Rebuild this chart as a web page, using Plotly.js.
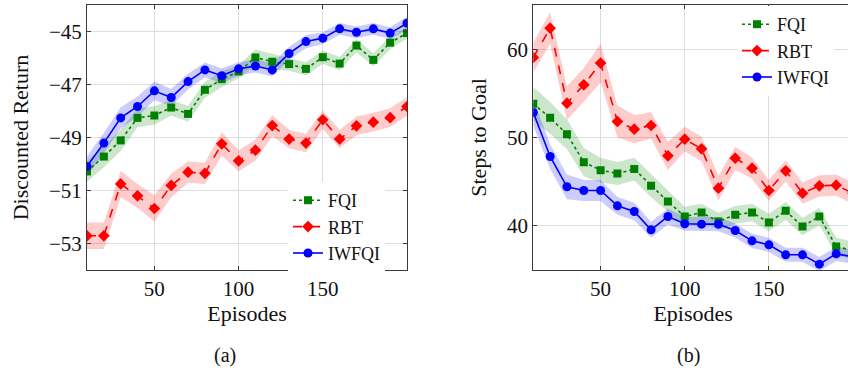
<!DOCTYPE html>
<html>
<head>
<meta charset="utf-8">
<script src="https://cdn.plot.ly/plotly-3.0.1.min.js"></script>
<style>
html, body { margin: 0; padding: 0; overflow: hidden; background: #fff; }
#chart { width: 870px; height: 376px; }
</style>
</head>
<body>
<div id="chart"></div>
<script>
// Episodes (shared x values)
const episodes = [10,20,30,40,50,60,70,80,90,100,110,120,130,140,150,160,170,180,190,200];

// (a) Discounted Return
const retFQI   = [-50.28,-49.72,-49.11,-48.26,-48.17,-47.87,-48.11,-47.20,-46.80,-46.51,-45.98,-46.14,-46.23,-46.41,-45.97,-46.21,-45.53,-46.07,-45.42,-45.06];
const retRBT   = [-52.71,-52.71,-50.75,-51.20,-51.68,-50.81,-50.31,-50.35,-49.24,-49.88,-49.48,-48.55,-49.06,-49.21,-48.33,-49.06,-48.56,-48.42,-48.25,-47.83];
const retIWFQI = [-50.09,-49.21,-48.26,-47.83,-47.24,-47.49,-46.89,-46.45,-46.67,-46.41,-46.30,-46.45,-45.83,-45.38,-45.25,-44.90,-45.03,-44.90,-45.06,-44.69];
const retFQIsd   = [0.40,0.40,0.40,0.35,0.35,0.30,0.30,0.30,0.30,0.25,0.30,0.30,0.25,0.25,0.25,0.25,0.25,0.25,0.25,0.20];
const retRBTsd   = [0.50,0.50,0.50,0.45,0.50,0.45,0.40,0.40,0.45,0.40,0.40,0.40,0.35,0.35,0.35,0.35,0.35,0.35,0.35,0.35];
const retIWFQIsd = [0.38,0.38,0.40,0.38,0.35,0.32,0.30,0.28,0.28,0.25,0.25,0.25,0.25,0.25,0.22,0.22,0.22,0.22,0.22,0.25];

// (b) Steps to Goal
const stepFQI   = [53.81,52.23,50.38,47.21,46.30,45.92,46.42,44.53,42.75,41.06,41.51,40.49,41.25,41.51,40.38,41.70,39.92,41.06,37.66,37.2];
const stepRBT   = [59.06,62.38,53.89,55.96,58.42,51.81,50.94,51.36,47.92,49.81,48.72,44.26,47.66,46.53,44.00,46.23,43.70,44.53,44.60,43.7];
const stepIWFQI = [52.83,47.85,44.42,44.00,44.00,42.26,41.62,39.55,41.06,40.23,40.19,40.19,39.47,38.30,37.85,36.72,36.72,35.66,36.83,36.5];
const stepFQIsd   = [1.9,1.8,1.7,1.6,1.4,1.3,1.3,1.3,1.2,1.1,1.0,1.0,1.0,1.0,1.0,1.0,1.0,1.0,1.0,1.0];
const stepRBTsd   = [1.7,1.8,1.9,1.9,2.2,1.8,1.6,1.5,1.6,1.4,1.4,1.4,1.3,1.2,1.2,1.2,1.2,1.2,1.2,1.2];
const stepIWFQIsd = [1.5,1.4,1.4,1.2,1.2,1.0,1.0,0.9,0.9,0.8,0.8,0.8,0.8,0.8,0.8,0.8,0.8,0.8,0.8,0.8];

const seriesNames = ['FQI','RBT','IWFQI'];
const FONT = 'Liberation Serif';
const styles = {
  FQI:   {color:'#008000', band:'rgba(0,128,0,0.2)', dash:'dot',   symbol:'square',  size:8},
  RBT:   {color:'#ff0000', band:'rgba(255,0,0,0.2)', dash:'dash',  symbol:'diamond', size:9},
  IWFQI: {color:'#0000ff', band:'rgba(0,0,255,0.2)', dash:'solid', symbol:'circle',  size:9}
};

function band(x, m, sd, xa, ya, color) {
  const up = m.map((v,i)=>v+sd[i]);
  const lo = m.map((v,i)=>v-sd[i]);
  return {
    x: x.concat(x.slice().reverse()),
    y: up.concat(lo.slice().reverse()),
    xaxis: xa, yaxis: ya, type:'scatter', mode:'lines', fill:'toself',
    fillcolor: color, line:{width:0, color:'rgba(0,0,0,0)'},
    showlegend:false, hoverinfo:'skip'
  };
}
function line(x, m, name, xa, ya, legend) {
  const s = styles[name];
  return {
    x: x, y: m, name: name, xaxis: xa, yaxis: ya, type:'scatter', mode:'lines+markers',
    line:{color:s.color, width:1.6, dash:s.dash},
    marker:{color:s.color, symbol:s.symbol, size:s.size},
    legend: legend
  };
}

const dataA = [[retFQI,retFQIsd],[retRBT,retRBTsd],[retIWFQI,retIWFQIsd]];
const dataB = [[stepFQI,stepFQIsd],[stepRBT,stepRBTsd],[stepIWFQI,stepIWFQIsd]];
const traces = [];
seriesNames.forEach((n,i)=>{ traces.push(band(episodes, dataA[i][0], dataA[i][1], 'x', 'y', styles[n].band)); });
seriesNames.forEach((n,i)=>{ traces.push(line(episodes, dataA[i][0], n, 'x', 'y', 'legend')); });
seriesNames.forEach((n,i)=>{ traces.push(band(episodes, dataB[i][0], dataB[i][1], 'x2', 'y2', styles[n].band)); });
seriesNames.forEach((n,i)=>{ traces.push(line(episodes, dataB[i][0], n, 'x2', 'y2', 'legend2')); });

const W = 870, H = 376;
const axBase = {
  showline:true, mirror:'ticks', linecolor:'#3a3a3a', linewidth:1,
  ticks:'inside', ticklen:4, tickcolor:'#3a3a3a',
  showgrid:true, gridcolor:'#dddddd', gridwidth:1, zeroline:false,
  tickfont:{family:FONT, size:21, color:'#111'}
};
const yDom = [1-270/H, 1-5/H];

const layout = {
  width: W, height: H,
  margin:{l:0,r:0,t:0,b:0},
  paper_bgcolor:'#fff', plot_bgcolor:'#fff',
  font:{family:FONT, size:21, color:'#111'},
  xaxis: Object.assign({}, axBase, {domain:[87/W, 407/W], range:[10,200], tickvals:[50,100,150,200], ticktext:['50','100','150',''], anchor:'y',
    title:{text:'Episodes', font:{family:FONT,size:22}, standoff:3}}),
  yaxis: Object.assign({}, axBase, {domain:yDom, range:[-54,-44], tickvals:[-53,-51,-49,-47,-45], ticktext:['\u221253','\u221251','\u221249','\u221247','\u221245'], anchor:'x',
    title:{text:'Discounted Return', font:{family:FONT,size:22}, standoff:14}}),
  xaxis2: Object.assign({}, axBase, {domain:[533.3/W, 853/W], range:[10,200], tickvals:[50,100,150,200], ticktext:['50','100','150',''], anchor:'y2',
    title:{text:'Episodes', font:{family:FONT,size:22}, standoff:3}}),
  yaxis2: Object.assign({}, axBase, {domain:yDom, range:[35,65], tickvals:[40,50,60], anchor:'x2',
    title:{text:'Steps to Goal', font:{family:FONT,size:22}, standoff:14}}),
  legend: {x:288/W, y:1-182/H, xanchor:'left', yanchor:'top', bgcolor:'#fff', borderwidth:0,
    font:{family:FONT,size:18,color:'#111'}, tracegroupgap:0},
  legend2: {x:737/W, y:1-6/H, xanchor:'left', yanchor:'top', bgcolor:'#fff', borderwidth:0,
    font:{family:FONT,size:18,color:'#111'}, tracegroupgap:0},
  annotations:[
    {text:'(a)', x:225/W, y:1-355/H, xref:'paper', yref:'paper', xanchor:'center', yanchor:'middle', showarrow:false, font:{family:FONT,size:20,color:'#111'}},
    {text:'(b)', x:688/W, y:1-355/H, xref:'paper', yref:'paper', xanchor:'center', yanchor:'middle', showarrow:false, font:{family:FONT,size:20,color:'#111'}}
  ]
};

Plotly.newPlot('chart', traces, layout, {displayModeBar:false, staticPlot:true});
</script>
</body>
</html>
